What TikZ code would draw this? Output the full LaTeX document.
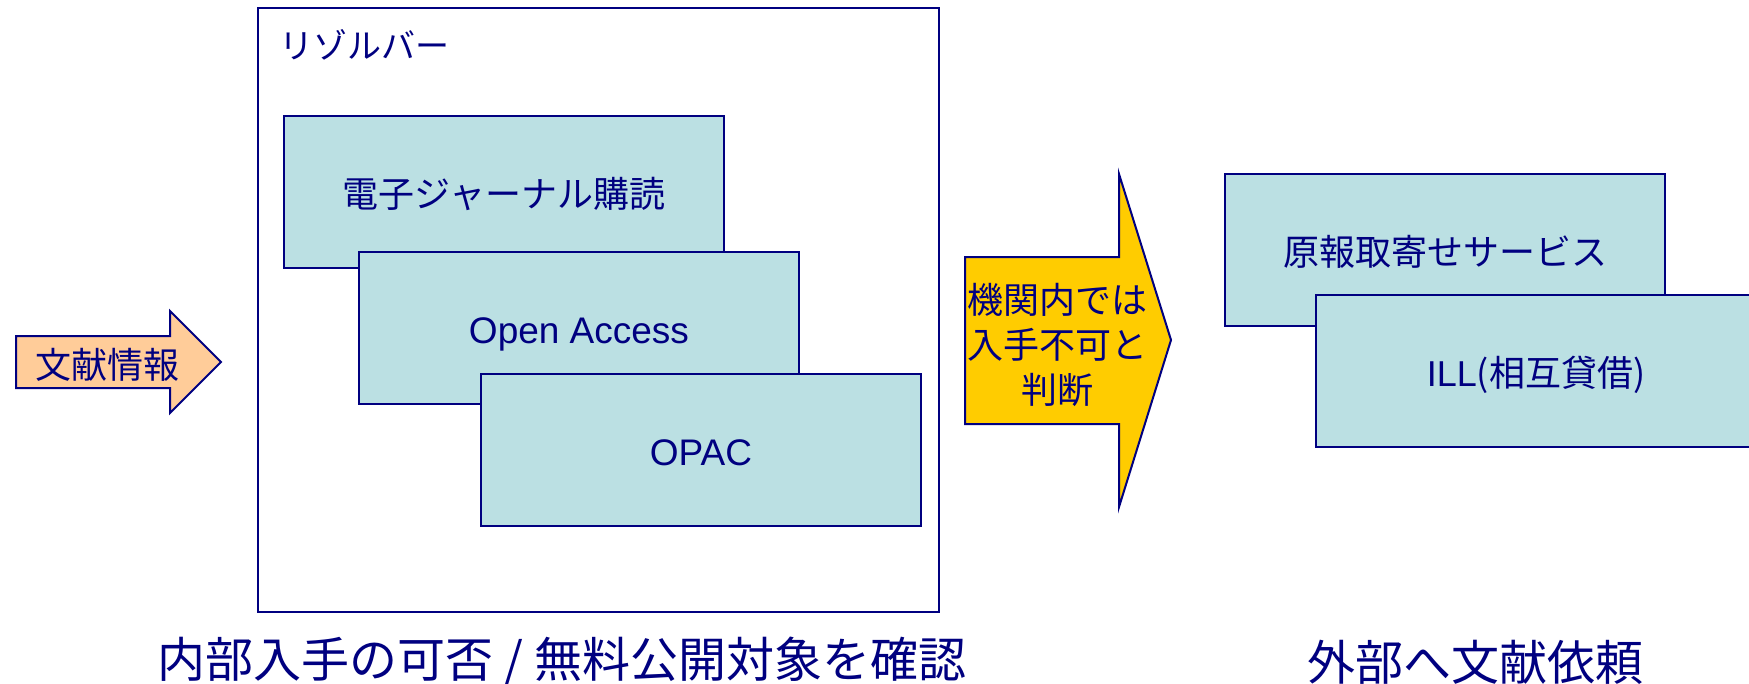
\documentclass[tikz,border=0pt]{standalone}
\usepackage{fontspec}
\setmainfont{Liberation Sans}
\newfontfamily\jpfont{Noto Sans CJK JP}
\usetikzlibrary{calc}
\definecolor{inknavy}{RGB}{0,0,128}
\definecolor{paleteal}{RGB}{187,224,227}
\definecolor{peach}{RGB}{255,204,153}
\definecolor{gold}{RGB}{255,204,0}
\tikzset{%
  outline/.style={draw=inknavy, line width=1pt},
  svcbox/.style={outline, fill=paleteal, minimum width=220pt, minimum height=76pt,
    inner sep=0pt, text height=16pt, text depth=0.6pt, text=inknavy,
    font=\jpfont\fontsize{18pt}{22pt}\selectfont},
  latinbox/.style={svcbox, font=\fontsize{18.5pt}{22pt}\selectfont},
  caption/.style={text=inknavy, inner sep=0pt, font=\jpfont\fontsize{24pt}{28pt}\selectfont},
  arrowtext/.style={text=inknavy, inner sep=0pt, align=center, font=\jpfont\fontsize{18pt}{22.5pt}\selectfont}
}
\begin{document}
\begin{tikzpicture}[x=0.5pt, y=-0.5pt]
  \path[use as bounding box, clip] (0,0) rectangle (1749,684);

  % resolver frame
  \node[outline, fill=white, minimum width=340.5pt, minimum height=302pt] (resolver) at (598.5,310) {};
  \node[caption, anchor=west, font=\jpfont\fontsize{17pt}{20pt}\selectfont] (rslabel) at ($(resolver.north west)+(22,38)$) {リゾルバー};

  \node[svcbox] (ej) at (504,192) {電子ジャーナル購読};
  \node[latinbox] (oa) at ($(ej)+(75,136)$) {Open Access};
  \node[latinbox] (opac) at ($(oa)+(122,122)$) {OPAC};

  % input arrow
  \draw[outline, fill=peach] (16,336) -- (170,336) -- (170,311) -- (221,362) -- (170,413) -- (170,388) -- (16,388) -- cycle;
  \node[arrowtext] (info) at (107,365) {文献情報};

  % decision arrow
  \draw[outline, fill=gold] (965,257) -- (1119,257) -- (1119,174) -- (1171,340) -- (1119,507) -- (1119,424) -- (965,424) -- cycle;
  \node[arrowtext] (judge) at (1057,345) {機関内では\\入手不可と\\判断};

  \node[svcbox] (docdel) at (1445,250) {原報取寄せサービス};
  \node[svcbox] (ill) at ($(docdel)+(91,121)$) {{\rmfamily ILL}(相互貸借)};

  \node[caption] (inside) at (562,662) {内部入手の可否 / 無料公開対象を確認};
  \node[caption] (outside) at (1475,662) {外部へ文献依頼};
\end{tikzpicture}
\end{document}
